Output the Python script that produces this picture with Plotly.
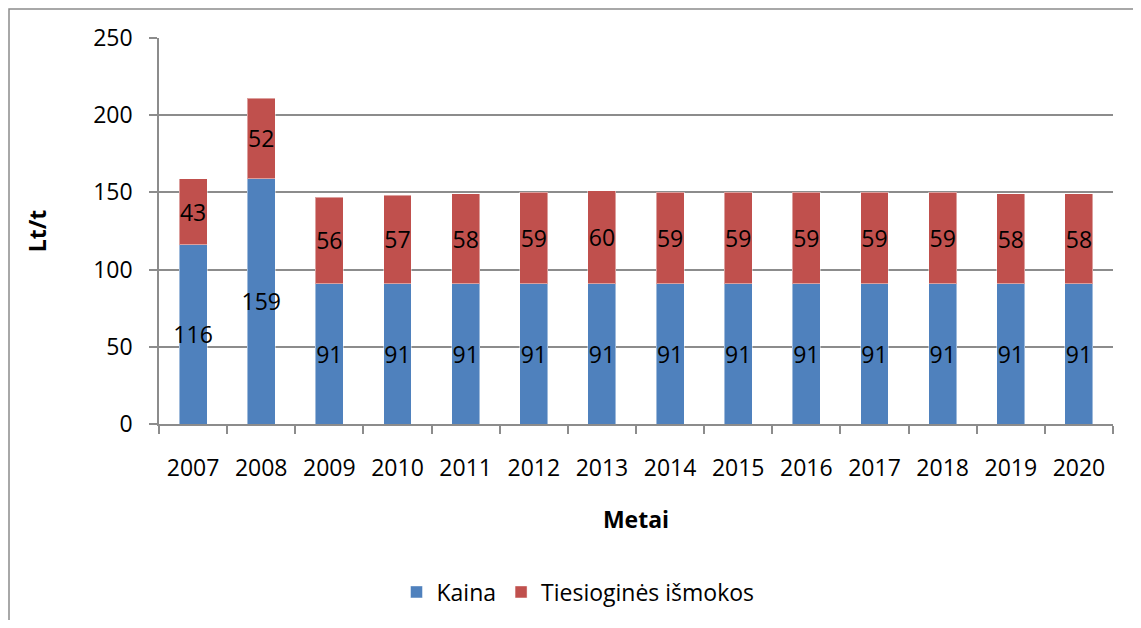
import plotly.graph_objects as go

years = ["2007", "2008", "2009", "2010", "2011", "2012", "2013", "2014",
         "2015", "2016", "2017", "2018", "2019", "2020"]
kaina = [116, 159, 91, 91, 91, 91, 91, 91, 91, 91, 91, 91, 91, 91]
ismokos = [43, 52, 56, 57, 58, 59, 60, 59, 59, 59, 59, 59, 58, 58]

FONT = "Open Sans"
FS = 23
GRID = "#8c8c8c"

fig = go.Figure()
fig.add_trace(go.Bar(
    x=years, y=kaina, name="Kaina",
    marker=dict(color="#4F81BD", line=dict(color="rgba(255,255,255,0.45)", width=1)),
    text=[str(v) for v in kaina], textposition="inside", insidetextanchor="middle",
    textangle=0, textfont=dict(color="black", size=FS, family=FONT),
))
fig.add_trace(go.Bar(
    x=years, y=ismokos, name="Tiesioginės išmokos",
    marker=dict(color="#C0504D", line=dict(color="rgba(255,255,255,0.45)", width=1)),
    text=[str(v) for v in ismokos], textposition="inside", insidetextanchor="middle",
    textangle=0, textfont=dict(color="black", size=FS, family=FONT),
))

# figure is placed at page offset (8, 8) by the default body margin
W, H = 1125, 612
L, R, T, B = 151, 20, 30, 196
pw, ph = W - L - R, H - T - B

def px_x(p):
    return (p - L) / pw

def px_y(p):
    return (H - B - p) / ph

fig.update_layout(
    width=W, height=H,
    margin=dict(l=L, r=R, t=T, b=B, autoexpand=False),
    barmode="stack", bargap=0.59,
    plot_bgcolor="white", paper_bgcolor="white",
    font=dict(family=FONT, size=FS, color="black"),
    uniformtext=dict(minsize=FS, mode="show"),
    showlegend=True,
    legend=dict(orientation="h", x=px_x(570), y=px_y(584), xanchor="center", yanchor="middle",
                font=dict(size=FS, family=FONT), traceorder="normal"),
    xaxis=dict(
        type="category", showgrid=False, showline=True, linecolor=GRID, linewidth=1.5,
        ticks="outside", tickson="boundaries", ticklen=8, tickcolor=GRID, tickwidth=1.5,
        ticklabelstandoff=23, automargin=False,
        title=dict(text="<b>Metai</b>", font=dict(size=FS, family=FONT), standoff=30),
    ),
    yaxis=dict(
        range=[0, 250], dtick=50, showgrid=True, gridcolor=GRID, gridwidth=1.5,
        showline=True, linecolor=GRID, linewidth=1.5, zeroline=False,
        ticks="outside", ticklen=8, tickcolor=GRID, tickwidth=1.5, ticklabelstandoff=12,
        automargin=False,
        title=dict(text="<b>Lt/t</b>", font=dict(size=FS, family=FONT), standoff=40),
    ),
    shapes=[dict(type="rect", xref="paper", yref="paper",
                 x0=px_x(1), x1=px_x(1160), y0=px_y(660), y1=px_y(1),
                 line=dict(color=GRID, width=1.5), fillcolor="rgba(0,0,0,0)", layer="below")],
)

fig.write_html("out.html")
